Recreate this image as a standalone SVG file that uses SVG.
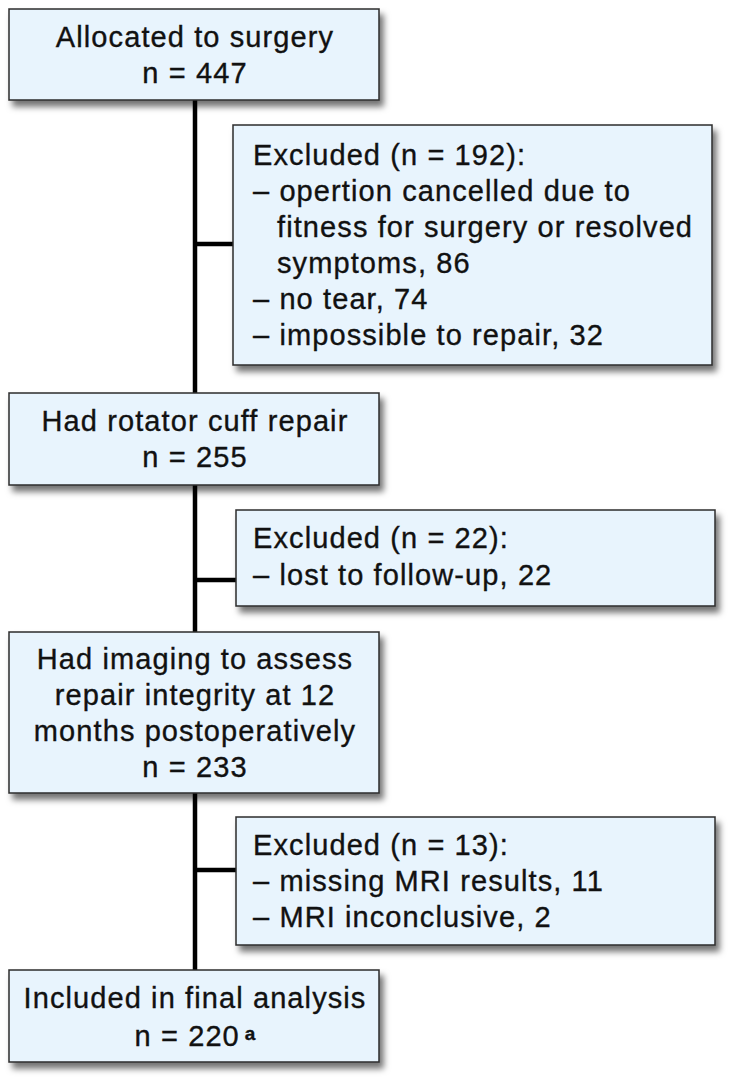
<svg xmlns="http://www.w3.org/2000/svg" width="740" height="1086" viewBox="0 0 740 1086">
  <defs>
    <filter id="shadow" x="-10%" y="-10%" width="130%" height="140%">
      <feDropShadow dx="4" dy="6" stdDeviation="3" flood-color="#000" flood-opacity="0.55"/>
    </filter>
  </defs>
  <style>
    .box { fill: #E8F4FD; stroke: #2b2b2b; stroke-width: 1.5; filter: url(#shadow); }
    .t { font-family: "Liberation Sans", Arial, Helvetica, sans-serif; font-size: 29px; letter-spacing: 1.1px; fill: #111; stroke: #111; stroke-width: 0.35; }
    .c { text-anchor: middle; }
    .conn { stroke: #000; stroke-width: 4.5; fill: none; }
  </style>
  <rect width="740" height="1086" fill="#fff"/>

  <g id="connectors">
    <line class="conn" x1="195" y1="100" x2="195" y2="970"/>
    <line class="conn" x1="195" y1="244" x2="233" y2="244"/>
    <line class="conn" x1="195" y1="580" x2="236" y2="580"/>
    <line class="conn" x1="195" y1="870" x2="236" y2="870"/>
  </g>

  <g id="allocated">
    <rect class="box" x="9" y="9" width="370" height="91"/>
    <text class="t c" x="195" y="47">Allocated to surgery</text>
    <text class="t c" x="195" y="83">n = 447</text>
  </g>

  <g id="excluded1">
    <rect class="box" x="233" y="125" width="479" height="240"/>
    <text class="t" x="253" y="165">Excluded (n = 192):</text>
    <text class="t" x="253" y="201">– opertion cancelled due to</text>
    <text class="t" x="277" y="237">fitness for surgery or resolved</text>
    <text class="t" x="277" y="273">symptoms, 86</text>
    <text class="t" x="253" y="309">– no tear, 74</text>
    <text class="t" x="253" y="345">– impossible to repair, 32</text>
  </g>

  <g id="repair">
    <rect class="box" x="9" y="393" width="370" height="92"/>
    <text class="t c" x="195" y="431">Had rotator cuff repair</text>
    <text class="t c" x="195" y="467">n = 255</text>
  </g>

  <g id="excluded2">
    <rect class="box" x="236" y="510" width="479" height="96"/>
    <text class="t" x="253" y="548">Excluded (n = 22):</text>
    <text class="t" x="253" y="585">– lost to follow-up, 22</text>
  </g>

  <g id="imaging">
    <rect class="box" x="9" y="632" width="370" height="161"/>
    <text class="t c" x="195" y="669">Had imaging to assess</text>
    <text class="t c" x="195" y="705">repair integrity at 12</text>
    <text class="t c" x="195" y="741">months postoperatively</text>
    <text class="t c" x="195" y="777">n = 233</text>
  </g>

  <g id="excluded3">
    <rect class="box" x="236" y="817" width="479" height="128"/>
    <text class="t" x="253" y="855">Excluded (n = 13):</text>
    <text class="t" x="253" y="891">– missing MRI results, 11</text>
    <text class="t" x="253" y="927">– MRI inconclusive, 2</text>
  </g>

  <g id="included">
    <rect class="box" x="9" y="970" width="370" height="92"/>
    <text class="t c" x="195" y="1008">Included in final analysis</text>
    <text class="t c" x="195" y="1046">n = 220<tspan font-size="19" font-weight="bold" letter-spacing="0" dx="5" dy="-6">a</tspan></text>
  </g>
</svg>
